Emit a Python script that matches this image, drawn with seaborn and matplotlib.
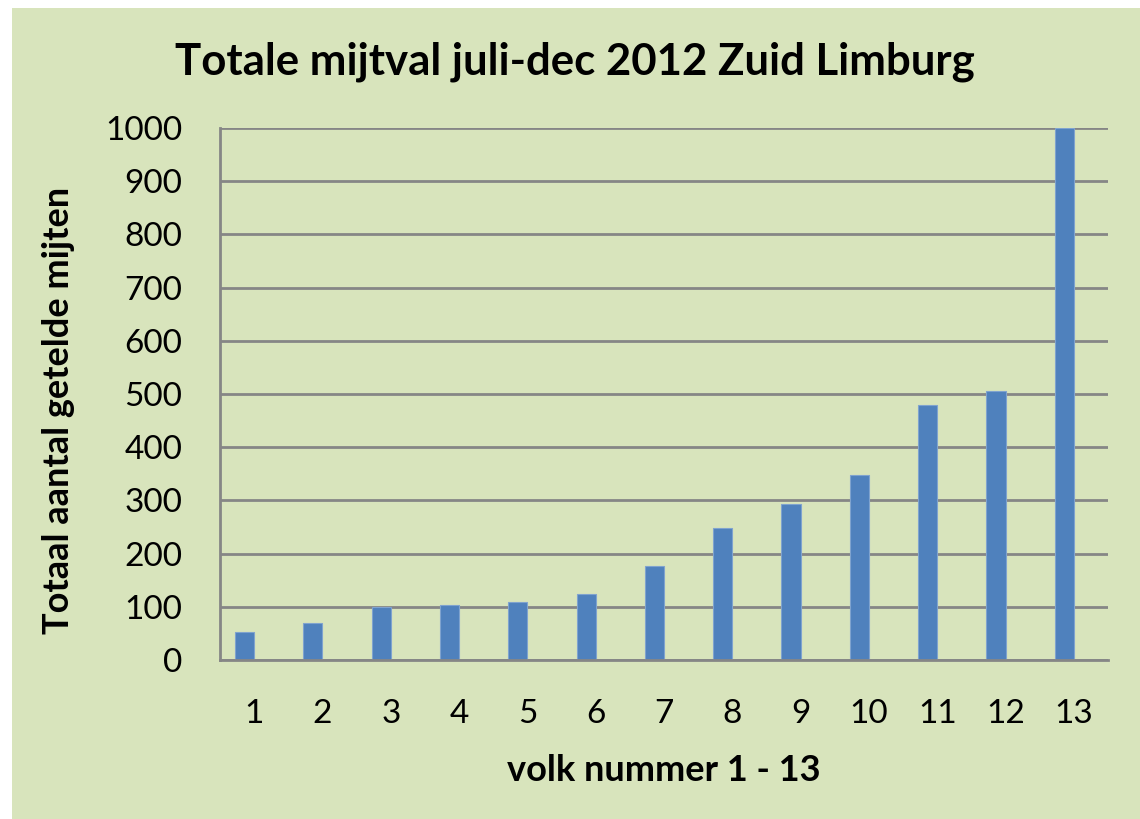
import matplotlib
matplotlib.use("Agg")
import matplotlib.pyplot as plt
import seaborn as sns
import pandas as pd
import numpy as np
from matplotlib.patches import Rectangle

volk = [str(i) for i in range(1, 14)]
mijten = [52, 70, 100, 103, 109, 125, 176, 248, 293, 347, 479, 506, 1000]
y_ticks = [0, 100, 200, 300, 400, 500, 600, 700, 800, 900, 1000]

title = "Totale mijtval juli-dec 2012 Zuid Limburg"
xlabel = "volk nummer 1 - 13"
ylabel = "Totaal aantal getelde mijten"

df = pd.DataFrame({
    "volk": volk * 2,
    "waarde": mijten + [np.nan] * len(volk),
    "reeks": ["mijten"] * len(volk) + ["leeg"] * len(volk),
})

sns.set_theme(style="white")
plt.rcParams['font.family'] = ['Lato', 'DejaVu Sans']
plt.rcParams['text.color'] = 'black'
plt.rcParams['axes.labelcolor'] = 'black'
plt.rcParams['xtick.color'] = 'black'
plt.rcParams['ytick.color'] = 'black'

bg = "#D8E4BC"
fig = plt.figure(figsize=(11.4, 8.19), dpi=100)
fig.patch.set_facecolor("white")
fig.patches.append(Rectangle((12/1140, 0), 1 - 12/1140, 1 - 8/819,
                             transform=fig.transFigure, facecolor=bg,
                             edgecolor="none", zorder=-10))
ax = fig.add_axes([220/1140, 1 - 660/819, 888/1140, 532/819])
ax.set_facecolor(bg)

sns.barplot(data=df, x="volk", y="waarde", hue="reeks", hue_order=["mijten", "leeg"],
            palette=["#4F81BD", "#C0504D"], width=0.56, dodge=True, ax=ax,
            legend=False, saturation=1, edgecolor="#7FA3CF", linewidth=0.8,
            errorbar=None)

ax.set_ylim(0, 1000)
ax.set_xlim(-0.5, 12.5)
ax.set_yticks(y_ticks)
ax.set_yticklabels([str(v) for v in y_ticks], fontsize=24)
ax.tick_params(axis="x", labelsize=24, pad=28, length=0)
ax.tick_params(axis="y", pad=27, length=0)
ax.yaxis.grid(True, color="#868686", linewidth=2)
ax.set_axisbelow(True)
for s in ["top", "right"]:
    ax.spines[s].set_visible(False)
ax.spines["left"].set_color("#868686")
ax.spines["left"].set_linewidth(2)
ax.spines["bottom"].set_color("#868686")
ax.spines["bottom"].set_linewidth(2)

ax.set_xlabel(xlabel, fontsize=26, fontweight="bold", labelpad=18)
ax.set_ylabel(ylabel, fontsize=26, fontweight="bold", labelpad=22)
ax.yaxis.label.set_y(0.47)
fig.text(575/1140, 1 - 62/819, title, fontsize=31.5, fontweight="bold",
         ha="center", va="center")

fig.savefig("out.png", dpi=100, facecolor=fig.get_facecolor())
